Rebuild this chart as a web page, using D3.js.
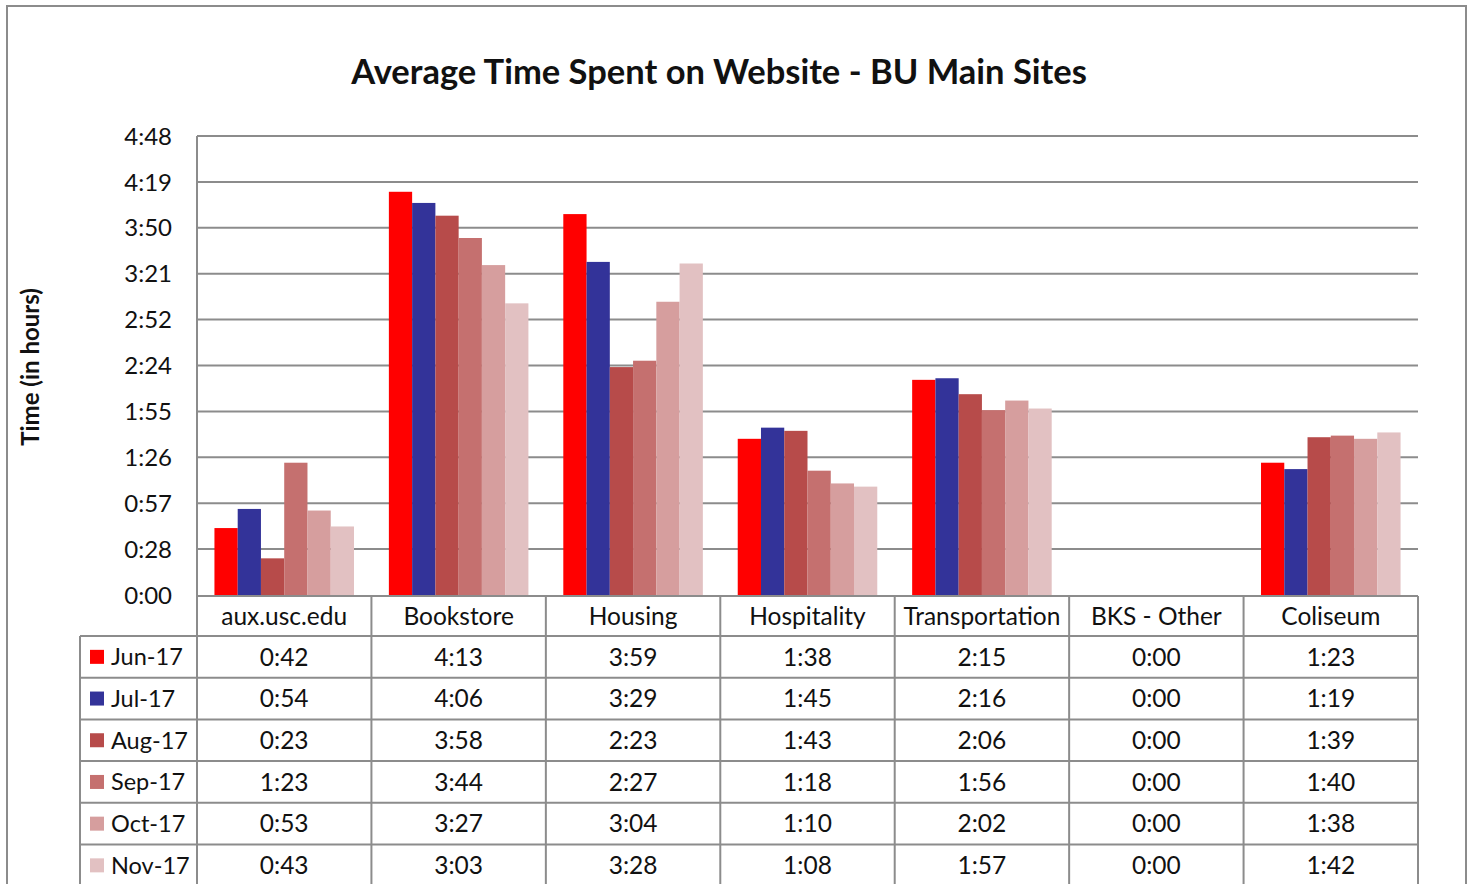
<!DOCTYPE html>
<html><head><meta charset="utf-8">
<script src="https://cdn.jsdelivr.net/npm/d3@7"></script>
<style>
body{margin:0;background:#fff;overflow:hidden}
text{font-family:Lato,"Open Sans",sans-serif;fill:#111}
</style></head><body>
<svg id="c" width="1471" height="884"></svg>
<script>
const categories = ["aux.usc.edu","Bookstore","Housing","Hospitality","Transportation","BKS - Other","Coliseum"];
const seriesNames = ["Jun-17","Jul-17","Aug-17","Sep-17","Oct-17","Nov-17"];
const jun17 = ["0:42","4:13","3:59","1:38","2:15","0:00","1:23"];
const jul17 = ["0:54","4:06","3:29","1:45","2:16","0:00","1:19"];
const aug17 = ["0:23","3:58","2:23","1:43","2:06","0:00","1:39"];
const sep17 = ["1:23","3:44","2:27","1:18","1:56","0:00","1:40"];
const oct17 = ["0:53","3:27","3:04","1:10","2:02","0:00","1:38"];
const nov17 = ["0:43","3:03","3:28","1:08","1:57","0:00","1:42"];
const seriesValues = [jun17,jul17,aug17,sep17,oct17,nov17];
const colors = ["#FF0000","#333399","#B74B4A","#C5706F","#D69E9E","#E2C1C2"];
const tickLabels = ["0:00","0:28","0:57","1:26","1:55","2:24","2:52","3:21","3:50","4:19","4:48"];
const tickStep = 28.8; // minutes
const toMin = s => { const [h,m] = s.split(":").map(Number); return h*60+m; };

const svg = d3.select("#c");
const grid = "#8c8c8c";
// outer frame
svg.append("rect").attr("x",7).attr("y",6).attr("width",1459).attr("height",900)
  .attr("fill","none").attr("stroke",grid).attr("stroke-width",2);

const L=197, R=1418, T=136, B=595;
const x = d3.scaleBand().domain(categories).range([L,R]).padding(0);
const y = d3.scaleLinear().domain([0, tickStep*(tickLabels.length-1)]).range([B,T]);

// gridlines
const tickVals = tickLabels.map((t,i)=>i*tickStep);
svg.append("g").selectAll("line").data(tickVals.slice(1)).join("line")
  .attr("x1",L).attr("x2",R).attr("y1",d=>y(d)).attr("y2",d=>y(d))
  .attr("stroke",grid).attr("stroke-width",2);
// y labels
svg.append("g").selectAll("text").data(tickVals).join("text")
  .attr("x",172).attr("y",d=>y(d)).attr("dy","0.36em").attr("text-anchor","end")
  .attr("font-size",24).text((d,i)=>tickLabels[i]);
// left axis line
svg.append("line").attr("x1",L).attr("x2",L).attr("y1",T).attr("y2",884).attr("stroke",grid).attr("stroke-width",2);

// bars
const groupPad = x.bandwidth()*0.1;
const inner = d3.scaleBand().domain(seriesNames).range([groupPad, x.bandwidth()-groupPad]);
const bars = svg.append("g");
seriesNames.forEach((s,si)=>{
  bars.selectAll(null).data(categories).join("rect")
    .attr("x",(c)=>x(c)+inner(s))
    .attr("width",inner.bandwidth())
    .attr("y",(c,ci)=>y(toMin(seriesValues[si][ci])))
    .attr("height",(c,ci)=>B-y(toMin(seriesValues[si][ci])))
    .attr("fill",colors[si]);
});

// title
svg.append("text").attr("x",719).attr("y",84).attr("text-anchor","middle")
  .attr("font-size",34.5).attr("font-weight","bold").text("Average Time Spent on Website - BU Main Sites");
// y axis title
svg.append("text").attr("transform","translate(39,367) rotate(-90)").attr("text-anchor","middle")
  .attr("font-size",24).attr("font-weight","bold").text("Time (in hours)");

// data table
const headTop=596, headBot=636, rowH=41.7, legL=80;
const rowY = i => headBot + i*rowH;
const tbl = svg.append("g");
tbl.append("line").attr("x1",L).attr("x2",R).attr("y1",headTop).attr("y2",headTop).attr("stroke",grid).attr("stroke-width",2);
d3.range(seriesNames.length+1).forEach(i=>{
  tbl.append("line").attr("x1",legL).attr("x2",R).attr("y1",rowY(i)).attr("y2",rowY(i)).attr("stroke",grid).attr("stroke-width",2);
});
categories.forEach(c=>{
  tbl.append("line").attr("x1",x(c)+x.bandwidth()).attr("x2",x(c)+x.bandwidth()).attr("y1",headTop).attr("y2",884).attr("stroke",grid).attr("stroke-width",2);
});
tbl.append("line").attr("x1",legL).attr("x2",legL).attr("y1",headBot).attr("y2",884).attr("stroke",grid).attr("stroke-width",2);
tbl.selectAll(".h").data(categories).join("text")
  .attr("x",c=>x(c)+x.bandwidth()/2).attr("y",(headTop+headBot)/2).attr("dy","0.36em")
  .attr("text-anchor","middle").attr("font-size",24.5).text(d=>d);
seriesNames.forEach((s,si)=>{
  const cy = rowY(si)+rowH/2;
  tbl.append("rect").attr("x",90).attr("y",cy-7).attr("width",14).attr("height",14).attr("fill",colors[si]);
  tbl.append("text").attr("x",111).attr("y",cy).attr("dy","0.36em").attr("font-size",23.5).text(s);
  tbl.selectAll(null).data(categories).join("text")
    .attr("x",c=>x(c)+x.bandwidth()/2).attr("y",cy).attr("dy","0.36em")
    .attr("text-anchor","middle").attr("font-size",24.5).text((c,ci)=>seriesValues[si][ci]);
});
</script>
</body></html>
